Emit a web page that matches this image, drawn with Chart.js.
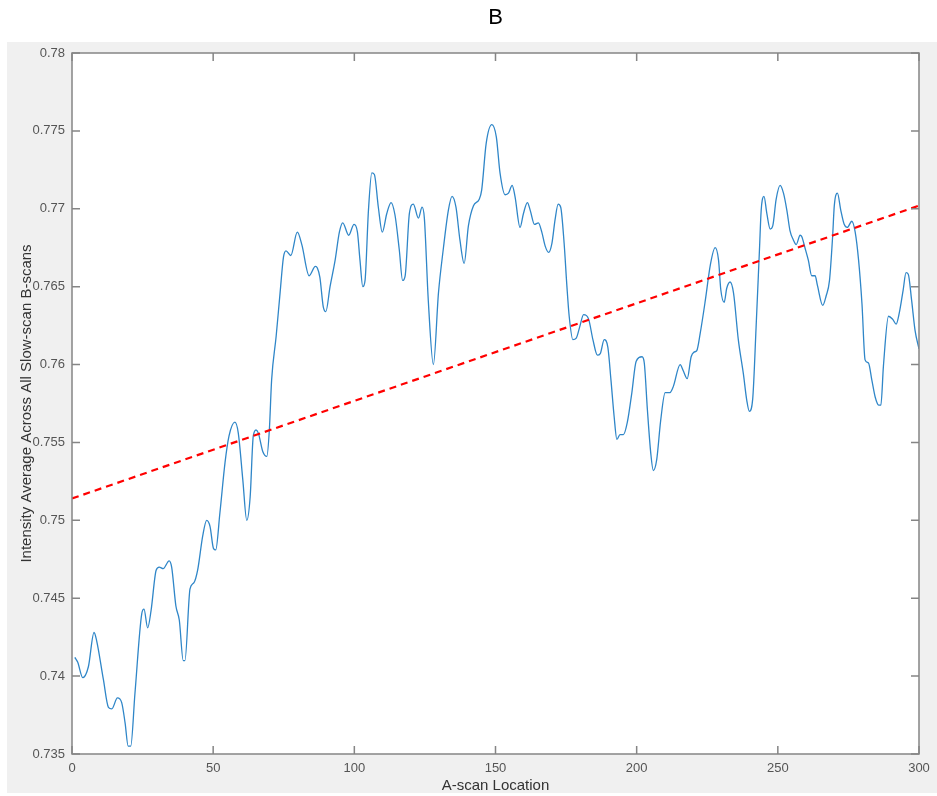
<!DOCTYPE html>
<html><head><meta charset="utf-8">
<script src="https://cdn.jsdelivr.net/npm/chart.js@4"></script>
<style>html,body{margin:0;padding:0;background:#fff;overflow:hidden}#wrap{width:937px;height:796px;position:relative}</style>
</head><body><div id="wrap"><canvas id="c" width="937" height="796"></canvas></div>
<script>
const titleText = 'B';
const xAxisLabel = 'A-scan Location';
const yAxisLabel = 'Intensity Average Across All Slow-scan B-scans';

const scanX = [1,2,3.8,5.8,7.8,8.7,11.1,12.9,14.1,16.1,17.6,18.8,19.9,20.8,22.3,24.7,25.5,26.8,28,29.8,30.9,32.3,34.4,35.3,36.8,38,39.4,40,41.8,43.2,44.5,46.3,47.7,48.9,50.1,50.9,52.4,54.2,55.6,57.7,58.9,60.5,61.9,63.1,64.2,65.2,66,67.6,69,69.9,70.7,72.3,73.7,74.9,75.8,77.5,79.8,81.4,84,86.2,86.9,87.8,89,89.9,91.4,93.2,94.7,95.9,98,99.9,101.1,102,103,103.8,105,106.2,107.1,108.5,109.9,111.5,113,114.4,115.9,117.1,118,119.5,120.9,122.7,124,124.8,126.2,128,129.8,131.5,133.3,134.6,136,137.4,138.9,140.4,142.2,144.2,145.1,146.7,148.7,150.3,151.6,153.4,154.6,155.9,156.9,158.7,159.9,161.3,162.3,163.8,165.2,166.4,167.6,168.8,170,171.1,172.2,173.1,174.3,175.3,176.1,177.4,178.6,179.8,181.2,183,184.5,186.1,187.1,188.5,189.8,190.9,192,193,194.1,195.3,196.7,198.3,199.8,201.9,202.7,203.8,205,205.9,207.1,208.5,210.1,211.8,213,215.4,216.5,217.9,219.3,220.3,221.3,222.5,224.3,226.1,227.8,229,229.8,231,231.9,233.1,234.3,236,237.8,239,239.9,241.1,242.3,243.5,244.1,245.1,246.1,247.3,248.2,249.4,250.8,252,253.2,254.3,255.5,256.5,257.9,258.5,259.6,260.8,262,263.2,264,265.9,267.1,268.3,269.4,270,271.1,272.3,273.5,274.6,276.2,277.4,278.6,279.8,280.9,282.1,283.3,284.5,285.7,286.5,287.4,289.2,290.7,291.9,293,294.4,295.4,296.2,297.4,298.6,300];
const intensity = [0.7412,0.7409,0.7399,0.7406,0.7428,0.7423,0.7398,0.7380,0.7379,0.7386,0.7383,0.7370,0.7355,0.7355,0.7389,0.7440,0.7443,0.7431,0.7442,0.7468,0.7470,0.7469,0.7474,0.7470,0.7445,0.7436,0.7410,0.7410,0.7456,0.7460,0.7468,0.7490,0.7500,0.7496,0.7482,0.7481,0.7505,0.7537,0.7554,0.7563,0.7556,0.7526,0.7500,0.7515,0.7554,0.7558,0.7556,0.7544,0.7541,0.7558,0.7590,0.7618,0.7646,0.7669,0.7673,0.7670,0.7685,0.7677,0.7657,0.7663,0.7662,0.7656,0.7637,0.7634,0.7650,0.7667,0.7685,0.7691,0.7683,0.7690,0.7685,0.7667,0.7650,0.7654,0.7699,0.7723,0.7722,0.7701,0.7685,0.7697,0.7704,0.7696,0.7674,0.7654,0.7657,0.7697,0.7703,0.7694,0.7701,0.7694,0.7641,0.7600,0.7646,0.7674,0.7699,0.7708,0.7701,0.7680,0.7665,0.7689,0.7702,0.7706,0.7712,0.7742,0.7754,0.7746,0.7723,0.7709,0.7710,0.7715,0.7708,0.7688,0.7697,0.7704,0.7699,0.7690,0.7691,0.7685,0.7676,0.7672,0.7678,0.7693,0.7703,0.7701,0.7678,0.7650,0.7631,0.7616,0.7617,0.7624,0.7632,0.7629,0.7616,0.7606,0.7607,0.7616,0.7611,0.7590,0.7567,0.7552,0.7555,0.7555,0.7563,0.7582,0.7602,0.7605,0.7601,0.7571,0.7543,0.7532,0.7539,0.7564,0.7582,0.7582,0.7586,0.7600,0.7596,0.7591,0.7605,0.7608,0.7609,0.7620,0.7641,0.7664,0.7675,0.7667,0.7648,0.7640,0.7649,0.7653,0.7646,0.7616,0.7594,0.7577,0.7570,0.7578,0.7624,0.7674,0.7699,0.7708,0.7697,0.7687,0.7689,0.7706,0.7715,0.7710,0.7699,0.7686,0.7680,0.7677,0.7683,0.7682,0.7675,0.7667,0.7657,0.7657,0.7651,0.7638,0.7644,0.7654,0.7682,0.7702,0.7710,0.7699,0.7690,0.7688,0.7692,0.7685,0.7667,0.7639,0.7603,0.7601,0.7590,0.7579,0.7574,0.7574,0.7599,0.7631,0.7629,0.7626,0.7633,0.7648,0.7659,0.7658,0.7641,0.7622,0.7610];

const trendX = [0, 300];
const trendY = [0.7514, 0.7702];

const xTicks = [0, 50, 100, 150, 200, 250, 300];
const xTickLabels = ['0', '50', '100', '150', '200', '250', '300'];
const yTicks = [0.735, 0.74, 0.745, 0.75, 0.755, 0.76, 0.765, 0.77, 0.775, 0.78];
const yTickLabels = ['0.735', '0.74', '0.745', '0.75', '0.755', '0.76', '0.765', '0.77', '0.775', '0.78'];

const AXIS_COLOR = '#858585';
const TICK_LEN = 8;

const matlabFrame = {
  id: 'matlabFrame',
  beforeDraw(chart) {
    const ctx = chart.ctx, a = chart.chartArea;
    ctx.save();
    ctx.fillStyle = '#ffffff';
    ctx.fillRect(0, 0, chart.width, chart.height);
    ctx.fillStyle = '#f0f0f0';
    ctx.fillRect(7, 42, chart.width - 7, 751);
    ctx.fillStyle = '#ffffff';
    ctx.fillRect(a.left, a.top, a.right - a.left, a.bottom - a.top);
    ctx.restore();
  },
  afterDraw(chart) {
    const ctx = chart.ctx, a = chart.chartArea;
    const xs = chart.scales.x, ys = chart.scales.y;
    ctx.save();
    ctx.strokeStyle = AXIS_COLOR;
    ctx.lineWidth = 1.5;
    ctx.strokeRect(a.left, a.top, a.right - a.left, a.bottom - a.top);
    ctx.beginPath();
    xs.ticks.forEach(t => {
      const px = xs.getPixelForValue(t.value);
      ctx.moveTo(px, a.bottom); ctx.lineTo(px, a.bottom - TICK_LEN);
      ctx.moveTo(px, a.top); ctx.lineTo(px, a.top + TICK_LEN);
    });
    ys.ticks.forEach(t => {
      const py = ys.getPixelForValue(t.value);
      ctx.moveTo(a.left, py); ctx.lineTo(a.left + TICK_LEN, py);
      ctx.moveTo(a.right, py); ctx.lineTo(a.right - TICK_LEN, py);
    });
    ctx.stroke();
    ctx.restore();
  }
};

const FONT = "'Liberation Sans', Arial, sans-serif";
const tickFont = { family: FONT, size: 13 };

new Chart(document.getElementById('c'), {
  type: 'line',
  data: {
    datasets: [
      {
        label: 'Intensity',
        data: scanX.map((x, i) => ({ x, y: intensity[i] })),
        borderColor: '#2f86c8',
        borderWidth: 1.3,
        pointRadius: 0,
        tension: 0.35,
        cubicInterpolationMode: 'monotone',
        fill: false,
        order: 1
      },
      {
        label: 'Trend',
        data: trendX.map((x, i) => ({ x, y: trendY[i] })),
        borderColor: '#ff0000',
        borderWidth: 2.2,
        borderDash: [7, 5],
        pointRadius: 0,
        fill: false,
        order: 0
      }
    ]
  },
  options: {
    responsive: false,
    animation: false,
    devicePixelRatio: 1,
    layout: { padding: { left: 0, right: 18, top: 0, bottom: 0 } },
    plugins: {
      legend: { display: false },
      tooltip: { enabled: false },
      title: {
        display: true,
        fullSize: false,
        text: titleText,
        color: '#000000',
        font: { family: FONT, size: 22, weight: 'normal', lineHeight: 1.2 },
        padding: { top: 5, bottom: 21.6 }
      }
    },
    scales: {
      x: {
        type: 'linear',
        min: 0, max: 300,
        afterBuildTicks: s => { s.ticks = xTicks.map(v => ({ value: v })); },
        afterFit: s => { s.height = 42; },
        grid: { display: false, drawTicks: false },
        border: { display: false },
        ticks: {
          autoSkip: false, maxRotation: 0, padding: 7,
          color: '#555555', font: tickFont,
          callback: v => xTickLabels[xTicks.indexOf(v)]
        },
        title: {
          display: true, text: xAxisLabel, color: '#333333',
          font: { family: FONT, size: 15, lineHeight: 1.2 },
          padding: { top: 0, bottom: 1 }
        }
      },
      y: {
        type: 'linear',
        min: 0.735, max: 0.78,
        afterBuildTicks: s => { s.ticks = yTicks.map(v => ({ value: v })); },
        afterFit: s => { s.width = 72; },
        grid: { display: false, drawTicks: false },
        border: { display: false },
        ticks: {
          autoSkip: false, padding: 7,
          color: '#555555', font: tickFont,
          callback: v => yTickLabels[yTicks.indexOf(v)]
        },
        title: {
          display: true, text: yAxisLabel, color: '#333333',
          font: { family: FONT, size: 15, lineHeight: 1.2 },
          padding: { top: 18, bottom: 0 }
        }
      }
    }
  },
  plugins: [matlabFrame]
});
</script>
</body></html>
